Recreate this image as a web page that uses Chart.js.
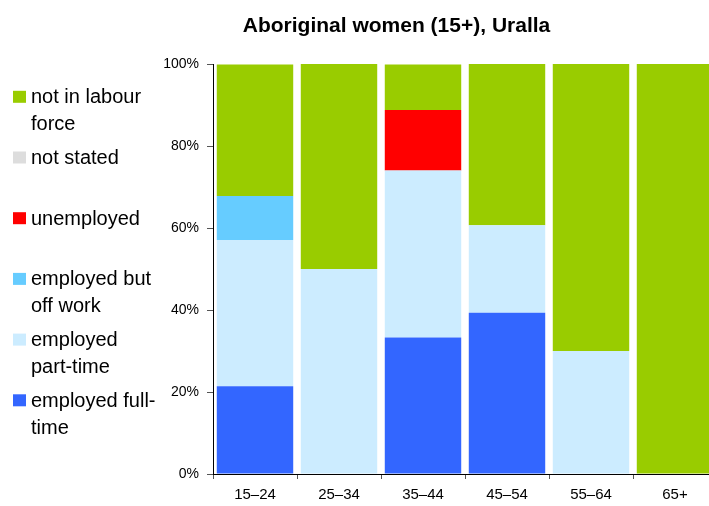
<!DOCTYPE html>
<html>
<head>
<meta charset="utf-8">
<script src="https://cdn.jsdelivr.net/npm/chart.js@4.4.1/dist/chart.umd.min.js"></script>
<style>
  html, body { margin: 0; padding: 0; background: #fff; overflow: hidden; }
  #wrap { position: relative; width: 720px; height: 506px; }
</style>
</head>
<body>
<div id="wrap"><canvas id="chartLaoDong" width="720" height="506"></canvas></div>
<script>
// ==================== DATA ====================
const tieuDe = "Aboriginal women (15+), Uralla";
const nhomTuoi = ["15–24", "25–34", "35–44", "45–54", "55–64", "65+"];

const fullTime   = [21.4, 0,  33.3, 39.3, 0,  0];
const partTime   = [35.7, 50, 40.7, 21.4, 30, 0];
const offWork    = [10.7, 0,  0,    0,    0,  0];
const unemployed = [0,    0,  14.8, 0,    0,  0];
const notStated  = [0,    0,  0,    0,    0,  0];
const notInLF    = [32.1, 50, 11.1, 39.3, 70, 100];

const yTicks = [0, 20, 40, 60, 80, 100];

// nhãn chú thích (mỗi dòng một phần tử)
const nhanFullTime   = ["employed full-", "time"];
const nhanPartTime   = ["employed", "part-time"];
const nhanOffWork    = ["employed but", "off work"];
const nhanUnemployed = ["unemployed"];
const nhanNotStated  = ["not stated"];
const nhanNotInLF    = ["not in labour", "force"];

// ==================== CHART ====================
const FONT = "'Liberation Sans', Arial, Helvetica, sans-serif";

const datasets = [
    { label: nhanFullTime,   data: fullTime,   backgroundColor: "#3366FF" },
    { label: nhanPartTime,   data: partTime,   backgroundColor: "#CCECFF" },
    { label: nhanOffWork,    data: offWork,    backgroundColor: "#66CCFF" },
    { label: nhanUnemployed, data: unemployed, backgroundColor: "#FF0000" },
    { label: nhanNotStated,  data: notStated,  backgroundColor: "#DDDDDD" },
    { label: nhanNotInLF,    data: notInLF,    backgroundColor: "#99CC00" }
];

// tiêu đề + chú thích vẽ tay bên trái
const pluginTieuDeChuThich = {
    id: "tieuDeChuThich",
    afterDraw(chart) {
        const ctx = chart.ctx;
        ctx.save();
        ctx.fillStyle = "#000";
        ctx.textBaseline = "alphabetic";
        ctx.textAlign = "center";
        ctx.font = "bold 21px " + FONT;
        ctx.fillText(tieuDe, 396.5, 32.3);

        ctx.textAlign = "left";
        ctx.font = "20px " + FONT;
        const ds = chart.data.datasets.slice().reverse();
        ds.forEach((d, i) => {
            const base = 103.3 + i * 60.7;
            ctx.fillStyle = d.backgroundColor;
            ctx.fillRect(13, base - 12.5, 13, 12);
            ctx.fillStyle = "#000";
            d.label.forEach((line, j) => ctx.fillText(line, 31, base + j * 27));
        });
        ctx.restore();
    }
};

new Chart(document.getElementById("chartLaoDong"), {
    type: "bar",
    data: { labels: nhomTuoi, datasets: datasets },
    options: {
        responsive: false,
        animation: false,
        categoryPercentage: 1,
        barPercentage: 0.91,
        layout: { padding: { left: 0, top: 64, right: 3, bottom: 0 } },
        plugins: {
            legend: { display: false },
            title: { display: false },
            tooltip: { enabled: false }
        },
        scales: {
            x: {
                stacked: true,
                afterFit: s => { s.height = 32; },
                grid: { drawOnChartArea: false, tickLength: 5, color: "#555", offset: true },
                border: { color: "#000", width: 1 },
                ticks: { color: "#000", font: { family: FONT, size: 15 }, padding: 7, maxRotation: 0 }
            },
            y: {
                stacked: true,
                min: 0,
                max: 100,
                afterFit: s => { s.width = 213; },
                afterBuildTicks: s => { s.ticks = yTicks.map(v => ({ value: v })); },
                grid: { drawOnChartArea: false, tickLength: 6, color: "#555" },
                border: { color: "#000", width: 1 },
                ticks: { color: "#000", font: { family: FONT, size: 14 }, padding: 8, callback: v => v + "%" }
            }
        }
    },
    plugins: [pluginTieuDeChuThich]
});
</script>
</body>
</html>
